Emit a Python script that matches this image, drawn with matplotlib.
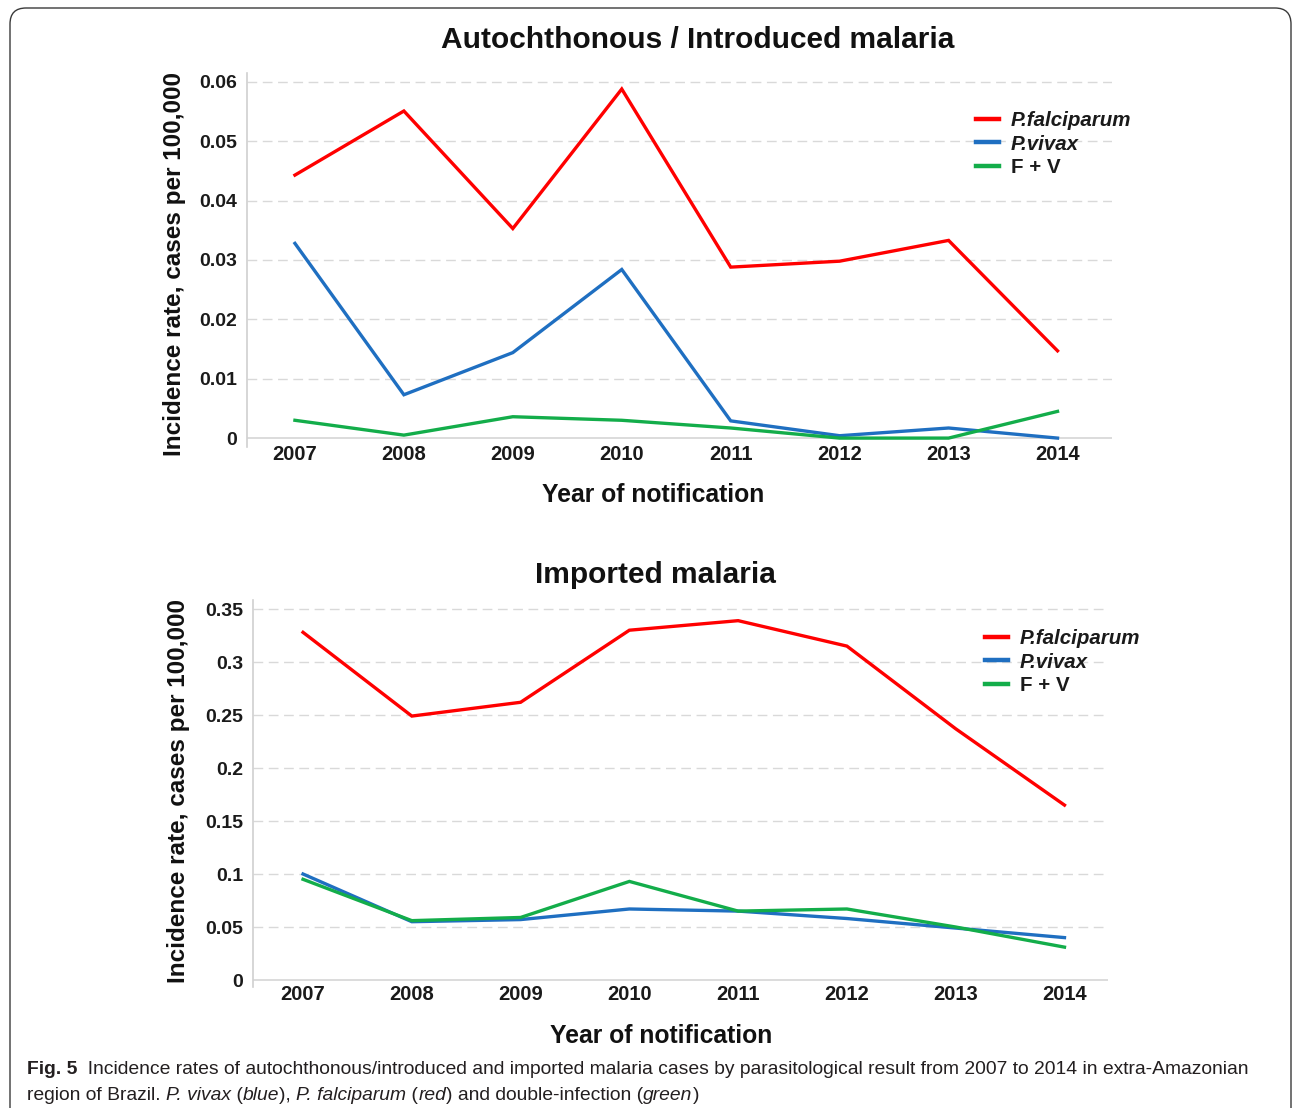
import matplotlib
matplotlib.use("Agg")
import matplotlib.pyplot as plt
from matplotlib.patches import FancyBboxPatch
from matplotlib.lines import Line2D
from matplotlib.transforms import IdentityTransform

# Data: incidence rates (cases per 100,000) by year of notification
years = ["2007", "2008", "2009", "2010", "2011", "2012", "2013", "2014"]

auto_falciparum = [0.0443, 0.0551, 0.0353, 0.0588, 0.0288, 0.0298, 0.0333, 0.0147]
auto_vivax = [0.0328, 0.0073, 0.0144, 0.0284, 0.0029, 0.0004, 0.0017, 0.0]
auto_mixed = [0.0030, 0.0005, 0.0036, 0.0030, 0.0017, 0.0, 0.0, 0.0045]

imp_falciparum = [0.328, 0.249, 0.262, 0.330, 0.339, 0.315, 0.237, 0.165]
imp_vivax = [0.100, 0.055, 0.057, 0.067, 0.065, 0.058, 0.049, 0.040]
imp_mixed = [0.095, 0.056, 0.059, 0.093, 0.065, 0.067, 0.050, 0.031]

top_yticks = [0, 0.01, 0.02, 0.03, 0.04, 0.05, 0.06]
top_yticklabels = ["0", "0.01", "0.02", "0.03", "0.04", "0.05", "0.06"]
bot_yticks = [0, 0.05, 0.1, 0.15, 0.2, 0.25, 0.3, 0.35]
bot_yticklabels = ["0", "0.05", "0.1", "0.15", "0.2", "0.25", "0.3", "0.35"]

series_labels = ["P.falciparum", "P.vivax", "F + V"]
series_colors = ["#FF0000", "#1F6FC1", "#13AD4A"]

FONT = "Liberation Sans"
plt.rcParams["font.family"] = [FONT, "DejaVu Sans"]

W, H = 1293, 1108
fig = plt.figure(figsize=(W / 100, H / 100), dpi=100)

# Rounded frame around the figure panel
frame = FancyBboxPatch((10, -40), 1281, H - 8 + 40,
                       boxstyle="round,pad=0,rounding_size=16",
                       transform=IdentityTransform(), fill=False,
                       edgecolor="#3a3a3a", linewidth=1.0)
fig.patches.append(frame)


def px_axes(left, top, right, bottom):
    return fig.add_axes([left / W, 1 - bottom / H, (right - left) / W, (bottom - top) / H])


def style_panel(ax, yticks, yticklabels, ylim, xlim):
    x = list(range(len(years)))
    ax.set_xlim(*xlim)
    ax.set_ylim(*ylim)
    for t in yticks[1:]:
        ax.axhline(t, color="#D9D9D9", lw=1.0, ls=(0, (7, 4)), zorder=0)
    ax.axhline(0, color="#D6D6D6", lw=1.2, zorder=0)
    for s in ["top", "right", "bottom"]:
        ax.spines[s].set_visible(False)
    ax.spines["left"].set_color("#D0D0D0")
    ax.spines["left"].set_linewidth(1.2)
    ax.set_yticks(yticks)
    ax.set_yticklabels(yticklabels, fontsize=14, fontweight="bold", color="#1a1a1a")
    ax.set_xticks(x)
    ax.set_xticklabels(years, fontsize=14.5, fontweight="bold", color="#1a1a1a")
    ax.tick_params(axis="both", length=0)
    ax.tick_params(axis="y", pad=7)
    ax.tick_params(axis="x", pad=-1.5)
    return x


def add_legend(ax, left_px, top_px):
    handles = [Line2D([], [], color=c, lw=3.2) for c in series_colors]
    leg = ax.legend(handles, series_labels, loc="upper left",
                    bbox_to_anchor=(left_px / W, 1 - top_px / H),
                    bbox_transform=fig.transFigure, frameon=False,
                    handlelength=1.1, handletextpad=0.6, labelspacing=0.22,
                    borderpad=0, borderaxespad=0,
                    prop={"family": FONT, "size": 14.8, "weight": "bold"})
    for txt, lab in zip(leg.get_texts(), series_labels):
        if lab.startswith("P."):
            txt.set_style("italic")
        txt.set_color("#1a1a1a")
    return leg


# Top panel: autochthonous / introduced malaria
ax1 = px_axes(247, 73, 1112, 447)
x = style_panel(ax1, top_yticks, top_yticklabels, (-0.0015, 0.0615), (-0.44, 7.5))
for vals, col in zip([auto_falciparum, auto_vivax, auto_mixed], series_colors):
    ax1.plot(x, vals, color=col, lw=2.4, solid_joinstyle="miter", zorder=3)
add_legend(ax1, 976, 111)

fig.text(698 / W, 1 - 40 / H, "Autochthonous / Introduced malaria",
         ha="center", va="center", fontsize=21.5, fontweight="bold", color="#111111")
fig.text(174 / W, 1 - 264 / H, "Incidence rate, cases per 100,000", rotation=90,
         ha="center", va="center", fontsize=17.5, fontweight="bold", color="#111111")
fig.text(653 / W, 1 - 495 / H, "Year of notification",
         ha="center", va="center", fontsize=17.8, fontweight="bold", color="#111111")

# Bottom panel: imported malaria
ax2 = px_axes(253, 600, 1108, 987)
x = style_panel(ax2, bot_yticks, bot_yticklabels, (-0.0066, 0.3585), (-0.46, 7.4))
for vals, col in zip([imp_falciparum, imp_vivax, imp_mixed], series_colors):
    ax2.plot(x, vals, color=col, lw=2.4, solid_joinstyle="miter", zorder=3)
add_legend(ax2, 985, 629)

fig.text(655 / W, 1 - 575 / H, "Imported malaria",
         ha="center", va="center", fontsize=21.5, fontweight="bold", color="#111111")
fig.text(178 / W, 1 - 791 / H, "Incidence rate, cases per 100,000", rotation=90,
         ha="center", va="center", fontsize=17.5, fontweight="bold", color="#111111")
fig.text(661 / W, 1 - 1036 / H, "Year of notification",
         ha="center", va="center", fontsize=17.8, fontweight="bold", color="#111111")

# Figure caption, built from runs of upright / italic / bold text
CAP_SIZE = 13.9
CAP_COLOR = "#231f20"
renderer = fig.canvas.get_renderer()


def caption_line(x_px, y_px, runs):
    for text, style, weight in runs:
        t = fig.text(x_px / W, 1 - y_px / H, text, ha="left", va="center",
                     fontsize=CAP_SIZE, fontstyle=style, fontweight=weight,
                     color=CAP_COLOR)
        x_px += t.get_window_extent(renderer).width


caption_line(27, 1069, [
    ("Fig. 5", "normal", "bold"),
    ("  Incidence rates of autochthonous/introduced and imported malaria cases by "
     "parasitological result from 2007 to 2014 in extra-Amazonian", "normal", "normal"),
])
caption_line(27, 1095, [
    ("region of Brazil. ", "normal", "normal"),
    ("P. vivax", "italic", "normal"),
    (" (", "normal", "normal"),
    ("blue", "italic", "normal"),
    ("), ", "normal", "normal"),
    ("P. falciparum", "italic", "normal"),
    (" (", "normal", "normal"),
    ("red", "italic", "normal"),
    (") and double-infection (", "normal", "normal"),
    ("green", "italic", "normal"),
    (")", "normal", "normal"),
])

fig.savefig("out.png", dpi=100)
